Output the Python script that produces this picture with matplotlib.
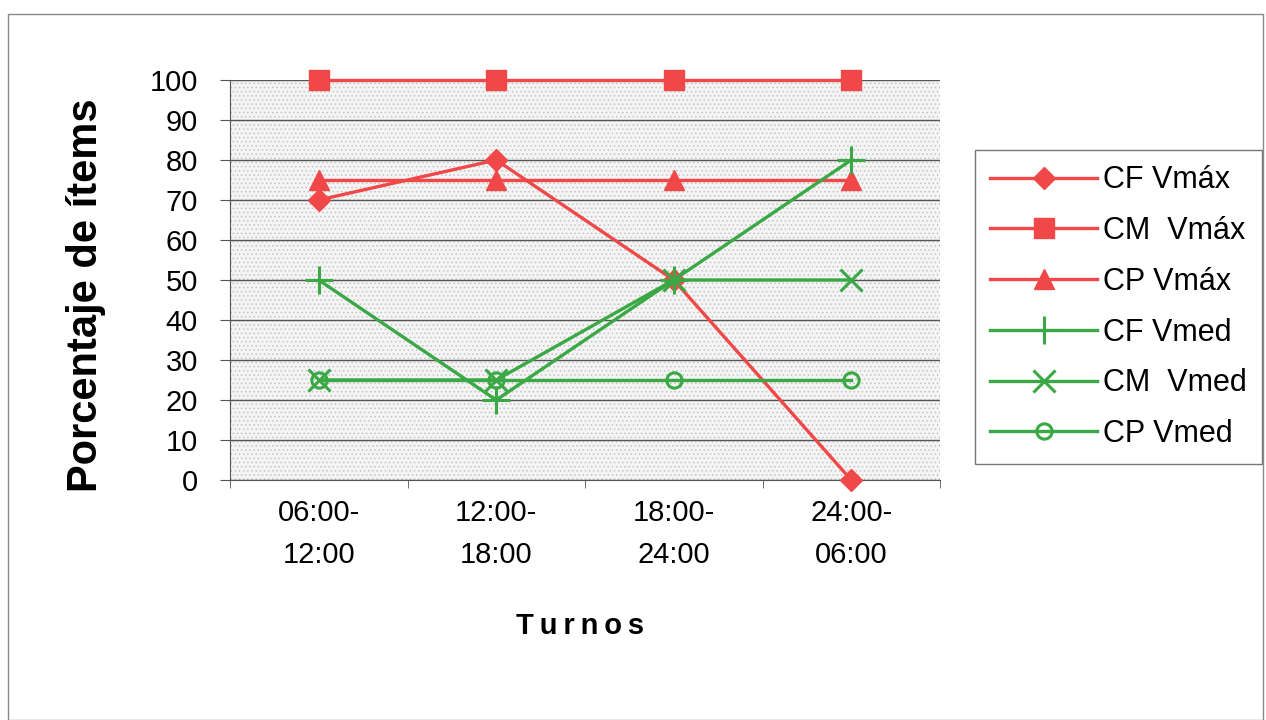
import matplotlib
matplotlib.use("Agg")
import matplotlib.pyplot as plt
from matplotlib.patches import Rectangle
import numpy as np

categories = ["06:00-\n12:00", "12:00-\n18:00", "18:00-\n24:00", "24:00-\n06:00"]
cf_vmax = [70, 80, 50, 0]
cm_vmax = [100, 100, 100, 100]
cp_vmax = [75, 75, 75, 75]
cf_vmed = [50, 20, 50, 80]
cm_vmed = [25, 25, 50, 50]
cp_vmed = [25, 25, 25, 25]
yticks = list(range(0, 101, 10))

RED = "#f04848"
GREEN = "#3aa845"

plt.rcParams['font.family'] = ['Liberation Sans', 'DejaVu Sans']
matplotlib.rcParams['hatch.linewidth'] = 0.6

fig = plt.figure(figsize=(12.66, 7.2), dpi=100)
fig.patch.set_facecolor("white")
fig.add_artist(Rectangle((0.006, 0.0), 0.992, 0.98, transform=fig.transFigure,
                         fill=False, edgecolor="#888888", linewidth=1))

ax = fig.add_axes([230/1266, 1-480/720, 710/1266, 400/720])
ax.set_facecolor("#f4f4f4")
ax.add_patch(Rectangle((0, 0), 1, 1, transform=ax.transAxes, facecolor="none",
                       edgecolor="#c4c4c4", hatch="....", linewidth=0, zorder=0))

x = np.arange(len(categories))
lw = 2.4
kw = dict(lw=lw, zorder=3, clip_on=False)
ax.plot(x, cf_vmax, color=RED, marker="D", ms=11, label="CF Vmáx", **kw)
ax.plot(x, cm_vmax, color=RED, marker="s", ms=14, label="CM  Vmáx", **kw)
ax.plot(x, cp_vmax, color=RED, marker="^", ms=14, label="CP Vmáx", **kw)
ax.plot(x, cf_vmed, color=GREEN, marker="+", ms=20, mew=2.2, label="CF Vmed", **kw)
ax.plot(x, cm_vmed, color=GREEN, marker="x", ms=16, mew=2.2, label="CM  Vmed", **kw)
ax.plot(x, cp_vmed, color=GREEN, marker="o", ms=11, mew=2.2, mfc="none", label="CP Vmed", **kw)

ax.set_xlim(-0.5, len(categories) - 0.5)
ax.set_ylim(0, 100)
ax.set_yticks(yticks)
ax.set_yticklabels([str(v) for v in yticks], fontsize=21)
ax.set_xticks(x)
ax.set_xticklabels(categories, fontsize=21, linespacing=1.6)
ax.set_xticks(np.arange(-0.5, len(categories), 1), minor=True)
ax.tick_params(axis="x", which="major", length=0, pad=14)
ax.tick_params(axis="x", which="minor", length=6, direction="out", color="#555555")
ax.tick_params(axis="y", length=7, direction="out", color="#555555", pad=16)
ax.yaxis.grid(True, color="#555555", lw=1)
ax.set_axisbelow(True)
for s in ["top", "right"]:
    ax.spines[s].set_visible(False)
ax.spines["left"].set_color("#555555")
ax.spines["bottom"].set_color("#555555")

ax.set_ylabel("Porcentaje de ítems", fontsize=30, fontweight="bold")
ax.yaxis.set_label_coords((106 - 230) / 710, (480 - 295) / 400)
ax.set_xlabel("T\u2009u\u2009r\u2009n\u2009o\u2009s", fontsize=21, fontweight="bold")
ax.xaxis.set_label_coords((580 - 230) / 710, (480 - 612) / 400)

leg = ax.legend(loc="upper left", bbox_to_anchor=((975-230)/710, 1 - (150-80)/400),
                fontsize=22, frameon=True, fancybox=False, edgecolor="#555555",
                handlelength=3.5, handletextpad=0.2, labelspacing=0.68, borderpad=0.5,
                borderaxespad=0)
leg.get_frame().set_linewidth(1)

fig.savefig("out.png", dpi=100, facecolor="white")
